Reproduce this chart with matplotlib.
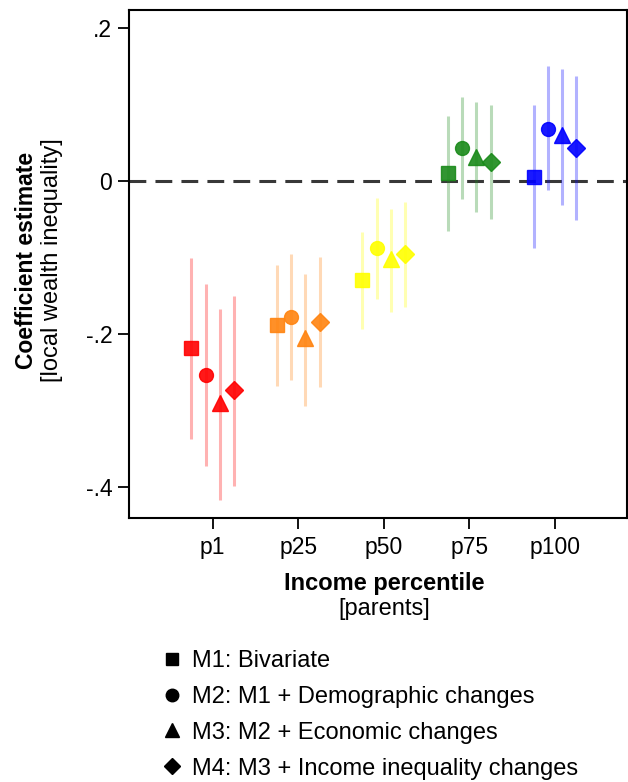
import numpy as np
import matplotlib
matplotlib.use('Agg')
import matplotlib.pyplot as plt
from matplotlib.lines import Line2D

plt.rcParams['font.family'] = ['Liberation Sans', 'DejaVu Sans']

# 数据
groups = ['p1', 'p25', 'p50', 'p75', 'p100']
group_colors = ['#ff0000', '#ff8410', '#ffff00', '#1a8a1a', '#0000ff']
models = ['M1: Bivariate', 'M2: M1 + Demographic changes',
          'M3: M2 + Economic changes', 'M4: M3 + Income inequality changes']
markers = ['s', 'o', '^', 'D']
msizes = [10, 10, 11, 9]

# 系数 (行 = 分组, 列 = 模型)
coef = [[-0.219, -0.254, -0.291, -0.274],
        [-0.189, -0.178, -0.206, -0.185],
        [-0.130, -0.087, -0.102, -0.096],
        [0.010, 0.043, 0.032, 0.025],
        [0.005, 0.068, 0.060, 0.043]]
ci_low = [[-0.338, -0.373, -0.418, -0.399],
          [-0.268, -0.261, -0.294, -0.270],
          [-0.193, -0.154, -0.171, -0.165],
          [-0.065, -0.023, -0.041, -0.049],
          [-0.088, -0.012, -0.031, -0.051]]
ci_high = [[-0.100, -0.135, -0.168, -0.150],
           [-0.110, -0.095, -0.121, -0.099],
           [-0.067, -0.022, -0.037, -0.027],
           [0.085, 0.110, 0.103, 0.100],
           [0.100, 0.151, 0.147, 0.137]]

offsets = [-0.25, -0.083, 0.083, 0.25]

fig = plt.figure(figsize=(6.28, 7.82), dpi=100)
ax = fig.add_axes([0.2054, 0.3376, 0.7926, 0.6496])

ax.axhline(0, color='#383838', lw=2.2, dashes=(5.5, 3), zorder=1)

for g in range(len(groups)):
    for m in range(len(models)):
        x = g + 1 + offsets[m]
        ax.plot([x, x], [ci_low[g][m], ci_high[g][m]], color=group_colors[g],
                alpha=0.3, lw=2.2, solid_capstyle='butt', zorder=2)
        ax.plot(x, coef[g][m], marker=markers[m], ms=msizes[m], color=group_colors[g],
                markeredgecolor=group_colors[g], alpha=0.9, zorder=3)

ax.set_xlim(0.02, 5.84)
ax.set_ylim(-0.441, 0.224)
ax.set_xticks(range(1, 6))
ax.set_xticklabels(groups)
ax.set_yticks([0.2, 0, -0.2, -0.4])
ax.set_yticklabels(['.2', '0', '-.2', '-.4'])
ax.tick_params(axis='both', labelsize=16.5, length=8, width=1.3, direction='out')
ax.tick_params(axis='x', pad=5)
ax.tick_params(axis='y', pad=4)
for s in ax.spines.values():
    s.set_linewidth(1.5)

# 坐标轴标题
fig.text(0.6115, 0.2532, 'Income percentile', ha='center', va='center',
         fontsize=17, fontweight='bold')
fig.text(0.6115, 0.2212, '[parents]', ha='center', va='center', fontsize=17)
fig.text(0.0425, 0.6675, 'Coefficient estimate', ha='center', va='center',
         rotation=90, fontsize=16.5, fontweight='bold')
fig.text(0.0823, 0.6675, '[local wealth inequality]', ha='center', va='center',
         rotation=90, fontsize=17)

# 图例
handles = [Line2D([0], [0], marker=markers[i], color='black', ls='none', ms=msizes[i] - 1)
           for i in range(len(models))]
fig.legend(handles, models, loc='upper left', bbox_to_anchor=(0.2438, 0.181),
           frameon=False, fontsize=17, handlelength=0.8, handletextpad=0.45,
           labelspacing=0.59, borderaxespad=0)

fig.savefig('out.png', dpi=100)
